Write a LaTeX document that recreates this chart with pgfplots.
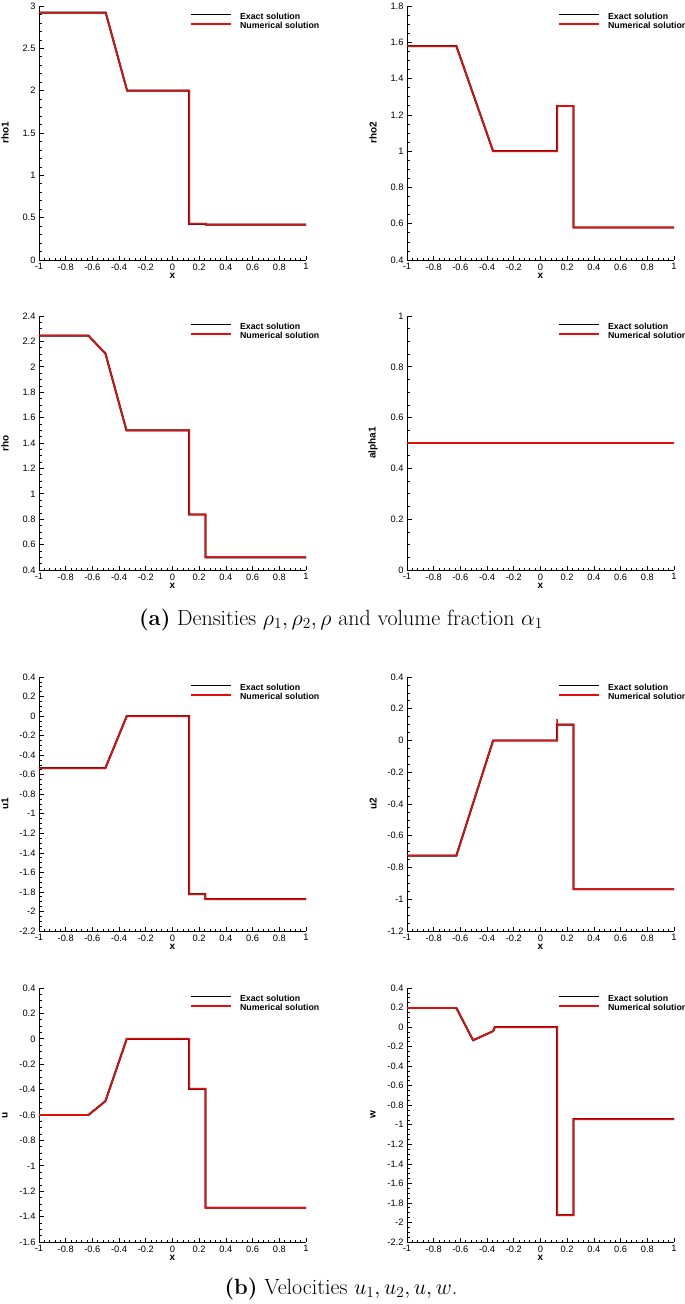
\RequirePackage{fix-cm}
\documentclass[border=0pt]{standalone}
\usepackage{fontspec}
\usepackage{pgfplots}
\pgfplotsset{compat=1.18}
\newfontfamily\arial{Liberation Sans}
\definecolor{numred}{rgb}{0.9,0.05,0.05}

\pgfplotsset{
  tp/.style={
    scale only axis, width=267pt, height=254pt,
    anchor=north west, clip=false,
    axis x line*=bottom, axis y line*=left,
    axis line style={black, line width=0.9pt},
    xmin=-1, xmax=1,
    xtick={-1,-0.8,-0.6,-0.4,-0.2,0,0.2,0.4,0.6,0.8,1},
    minor x tick num=4,
    tick align=inside,
    major tick length=4.5pt, minor tick length=2.5pt,
    every tick/.style={black, line width=0.7pt},
    /pgf/number format/assume math mode=true,
    ticklabel style={font=\arial\fontsize{9.3}{10}\selectfont},
    xlabel={x},
    every axis x label/.style={at={(axis description cs:0.5,-0.062)}, anchor=center,
      font=\arial\bfseries\fontsize{10}{11}\selectfont},
    every axis y label/.style={at={(axis description cs:-0.127,0.5)}, rotate=90, anchor=center,
      font=\arial\bfseries\fontsize{10}{11}\selectfont},
    legend style={at={(axis description cs:0.5655,0.975)}, anchor=north west,
      draw=none, fill=none, inner sep=0pt, row sep=1.2pt,
      font=\arial\bfseries\fontsize{8.8}{10}\selectfont,
      nodes={inner sep=0pt, text height=6.6pt, text depth=1.8pt}},
    legend cell align=left,
    legend image code/.code={\draw[#1, line width=1.4pt] (0pt,2.5pt) -- (40pt,2.5pt); \path (0pt,0pt) (48pt,0pt);},
  },
  ex/.style={black, line width=1.9pt},
  nu/.style={numred, line width=1.6pt},
}

\begin{document}
\begin{tikzpicture}
\useasboundingbox (0,0) rectangle (685pt,-1304pt);

% rho1
\begin{axis}[tp, at={(39pt,-6pt)}, ymin=0, ymax=3,
  ytick={0,0.5,1,1.5,2,2.5,3}, minor y tick num=4, ylabel={rho1}]
\addplot[ex] coordinates {(-1,2.921)(-0.5,2.921)(-0.34,2.0)(0.125,2.0)(0.125,0.426)(0.25,0.426)(0.25,0.418)(1,0.418)};
\addlegendentry{Exact solution}
\addplot[nu] coordinates {(-1,2.921)(-0.5,2.921)(-0.34,2.0)(0.125,2.0)(0.125,0.426)(0.25,0.426)(0.25,0.418)(1,0.418)};
\addlegendentry{Numerical solution}
\end{axis}

% rho2
\begin{axis}[tp, at={(407pt,-6pt)}, ymin=0.4, ymax=1.8,
  ytick={0.4,0.6,0.8,1,1.2,1.4,1.6,1.8}, minor y tick num=3, ylabel={rho2}]
\addplot[ex] coordinates {(-1,1.579)(-0.63,1.579)(-0.355,1.0)(0.125,1.0)(0.125,1.249)(0.2475,1.249)(0.2475,0.579)(1,0.579)};
\addlegendentry{Exact solution}
\addplot[nu] coordinates {(-1,1.579)(-0.63,1.579)(-0.355,1.0)(0.125,1.0)(0.125,1.249)(0.2475,1.249)(0.2475,0.579)(1,0.579)};
\addlegendentry{Numerical solution}
\end{axis}

% rho
\begin{axis}[tp, at={(39pt,-316pt)}, ymin=0.4, ymax=2.4,
  ytick={0.4,0.6,0.8,1,1.2,1.4,1.6,1.8,2,2.2,2.4}, minor y tick num=3, ylabel={rho}]
\addplot[ex] coordinates {(-1,2.245)(-0.63,2.245)(-0.5025,2.105)(-0.345,1.5)(0.125,1.5)(0.125,0.837)(0.2475,0.837)(0.2475,0.5)(1,0.5)};
\addlegendentry{Exact solution}
\addplot[nu] coordinates {(-1,2.245)(-0.63,2.245)(-0.5025,2.105)(-0.345,1.5)(0.125,1.5)(0.125,0.837)(0.2475,0.837)(0.2475,0.5)(1,0.5)};
\addlegendentry{Numerical solution}
\end{axis}

% alpha1
\begin{axis}[tp, at={(407pt,-316pt)}, ymin=0, ymax=1,
  ytick={0,0.2,0.4,0.6,0.8,1}, minor y tick num=3, ylabel={alpha1}]
\addplot[ex] coordinates {(-1,0.5)(1,0.5)};
\addlegendentry{Exact solution}
\addplot[nu] coordinates {(-1,0.5)(1,0.5)};
\addlegendentry{Numerical solution}
\end{axis}

\node at (341pt,-620pt) {\fontsize{22}{26}\selectfont\textbf{(a)} Densities $\rho_1, \rho_2, \rho$ and volume fraction $\alpha_1$};

% u1
\begin{axis}[tp, at={(39pt,-677pt)}, ymin=-2.2, ymax=0.4,
  ytick={-2.2,-2,-1.8,-1.6,-1.4,-1.2,-1,-0.8,-0.6,-0.4,-0.2,0,0.2,0.4}, minor y tick num=3, ylabel={u1}]
\addplot[ex] coordinates {(-1,-0.532)(-0.5025,-0.532)(-0.3425,0)(0.125,0)(0.125,-1.823)(0.245,-1.823)(0.245,-1.874)(1,-1.874)};
\addlegendentry{Exact solution}
\addplot[nu] coordinates {(-1,-0.532)(-0.5025,-0.532)(-0.3425,0)(0.125,0)(0.125,-1.823)(0.245,-1.823)(0.245,-1.874)(1,-1.874)};
\addlegendentry{Numerical solution}
\end{axis}

% u2
\begin{axis}[tp, at={(407pt,-677pt)}, ymin=-1.2, ymax=0.4,
  ytick={-1.2,-1,-0.8,-0.6,-0.4,-0.2,0,0.2,0.4}, minor y tick num=3, ylabel={u2}]
\addplot[ex] coordinates {(-1,-0.725)(-0.63,-0.725)(-0.355,0)(0.125,0)(0.125,0.1)(0.2475,0.1)(0.2475,-0.937)(1,-0.937)};
\addlegendentry{Exact solution}
\addplot[nu] coordinates {(-1,-0.725)(-0.63,-0.725)(-0.355,0)(0.125,0)(0.125,0.135)(0.125,0.1)(0.2475,0.1)(0.2475,-0.937)(1,-0.937)};
\addlegendentry{Numerical solution}
\end{axis}

% u
\begin{axis}[tp, at={(39pt,-988pt)}, ymin=-1.6, ymax=0.4,
  ytick={-1.6,-1.4,-1.2,-1,-0.8,-0.6,-0.4,-0.2,0,0.2,0.4}, minor y tick num=3, ylabel={u}]
\addplot[ex] coordinates {(-1,-0.6)(-0.63,-0.6)(-0.5025,-0.491)(-0.3425,0)(0.125,0)(0.125,-0.394)(0.2475,-0.394)(0.2475,-1.33)(1,-1.33)};
\addlegendentry{Exact solution}
\addplot[nu] coordinates {(-1,-0.6)(-0.63,-0.6)(-0.5025,-0.491)(-0.3425,0)(0.125,0)(0.125,-0.394)(0.2475,-0.394)(0.2475,-1.33)(1,-1.33)};
\addlegendentry{Numerical solution}
\end{axis}

% w
\begin{axis}[tp, at={(407pt,-988pt)}, ymin=-2.2, ymax=0.4,
  ytick={-2.2,-2,-1.8,-1.6,-1.4,-1.2,-1,-0.8,-0.6,-0.4,-0.2,0,0.2,0.4}, minor y tick num=3, ylabel={w}]
\addplot[ex] coordinates {(-1,0.195)(-0.63,0.195)(-0.505,-0.135)(-0.3625,-0.046)(-0.35,-0.03)(-0.3425,0)(0.125,0)(0.125,-1.924)(0.2475,-1.924)(0.2475,-0.942)(1,-0.942)};
\addlegendentry{Exact solution}
\addplot[nu] coordinates {(-1,0.195)(-0.63,0.195)(-0.505,-0.135)(-0.3625,-0.046)(-0.35,-0.03)(-0.3425,0)(0.125,0)(0.125,-1.924)(0.2475,-1.924)(0.2475,-0.942)(1,-0.942)};
\addlegendentry{Numerical solution}
\end{axis}

\node at (341pt,-1289pt) {\fontsize{22}{26}\selectfont\textbf{(b)} Velocities $u_1, u_2, u, w$.};
\end{tikzpicture}
\end{document}
